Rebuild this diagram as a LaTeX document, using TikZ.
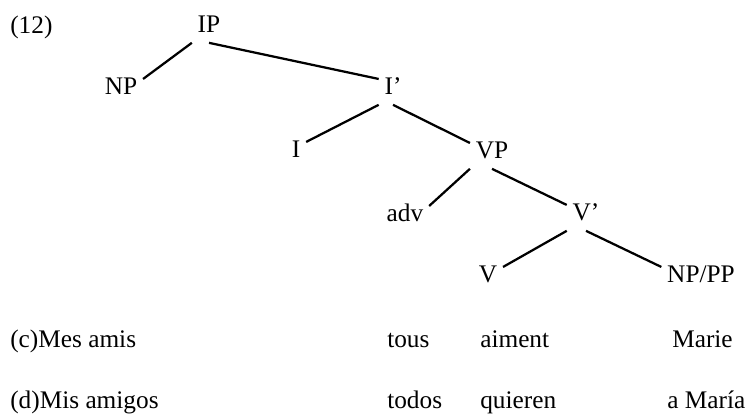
\documentclass[tikz,border=0pt]{standalone}
\usepackage{fontspec}
\setmainfont{Liberation Serif}
\begin{document}
\begin{tikzpicture}[
        x=0.025cm, y=-0.025cm,
        cat/.style={anchor=base, font=\fontsize{18}{21}\selectfont, inner xsep=4pt, inner ysep=1.5pt, text height=9pt, text depth=6pt},
        gloss/.style={anchor=base west, font=\fontsize{18}{21}\selectfont, inner sep=0pt},
        branch/.style={line width=1.6pt}
    ]
        \useasboundingbox (0,0) rectangle (749,416);

        % tree
        \node[gloss] (num) at (10,33) {(12)};
        \node[cat] (ip) at (209,32) {IP};
        \node[cat] (np) at (121,94) {NP};
        \node[cat] (ibar) at (393,94) {I'};
        \node[cat] (infl) at (296,157) {I};
        \node[cat] (vp) at (492,158) {VP};
        \node[cat] (adv) at (405,221) {adv};
        \node[cat] (vbar) at (586,220) {V'};
        \node[cat] (verb) at (488,282) {V};
        \node[cat] (obj) at (701,282) {NP/PP};

        \draw[branch] (ip.south west) -- (np.north east);
        \draw[branch] (ip.south) -- (ibar.north west);
        \draw[branch] (ibar.south west) -- (infl.north east);
        \draw[branch] (ibar.south) -- (vp.north west);
        \draw[branch] (vp.south west) -- (adv.north east);
        \draw[branch] (vp.south) -- (vbar.north west);
        \draw[branch] (vbar.south west) -- (verb.north east);
        \draw[branch] (vbar.south) -- (obj.north west);

        % examples
        \node[gloss] (c-subj) at (10,347) {(c)Mes amis};
        \node[gloss] (c-adv) at (387,347) {tous};
        \node[gloss] (c-verb) at (480,347) {aiment};
        \node[gloss] (c-obj) at (672,347) {Marie};

        \node[gloss] (d-subj) at (10,408) {(d)Mis amigos};
        \node[gloss] (d-adv) at (387,408) {todos};
        \node[gloss] (d-verb) at (480,408) {quieren};
        \node[gloss] (d-obj) at (667,408) {a María};
    \end{tikzpicture}
\end{document}
